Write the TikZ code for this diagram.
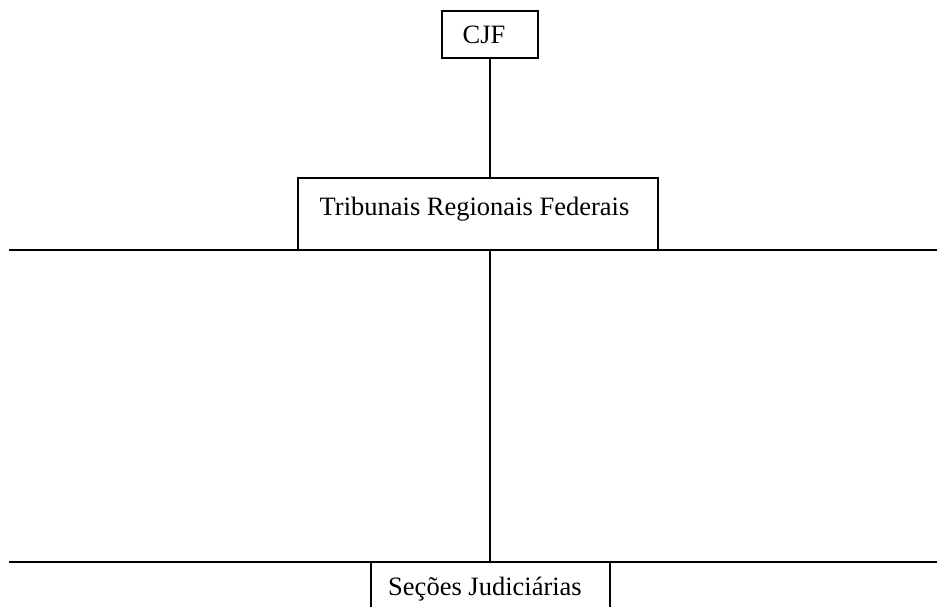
\documentclass[tikz,border=0pt]{standalone}
\usepackage{fontspec}
\setmainfont{Liberation Serif}
\begin{document}
\begin{tikzpicture}[x=1pt,y=-1pt,
  box/.style={draw,line width=1.3pt,rectangle,inner sep=0pt},
  lbl/.style={anchor=base,inner sep=0pt,font=\fontsize{26.5}{30}\selectfont},
  ln/.style={line width=1.3pt}]
\clip (0,0) rectangle (937,607);
\fill[white] (0,0) rectangle (937,607);
% boxes
\node[box,minimum width=96pt,minimum height=47pt] (cjf) at (490,34.5) {};
\node[box,minimum width=360pt,minimum height=72pt] (trf) at (478,214) {};
\node[box,minimum width=239pt,minimum height=90pt] (sj) at (490.5,607) {};
% texts
\node[lbl] (tcjf) at (484,44) {CJF};
\node[lbl] (ttrf) at (474.5,215) {Tribunais Regionais Federais};
\node[lbl] (tsj) at (485,595) {Seções Judiciárias};
% horizontal rules
\coordinate (l1a) at (9,250);
\coordinate (l1b) at (937,250);
\coordinate (l2a) at (9,562);
\coordinate (l2b) at (937,562);
\draw[ln] (l1a) -- (l1b);
\draw[ln] (l2a) -- (l2b);
% connectors
\coordinate (c1) at (490,58);
\coordinate (c2) at (490,178);
\coordinate (c3) at (490,250);
\coordinate (c4) at (490,562);
\draw[ln] (c1) -- (c2);
\draw[ln] (c3) -- (c4);
\end{tikzpicture}
\end{document}
